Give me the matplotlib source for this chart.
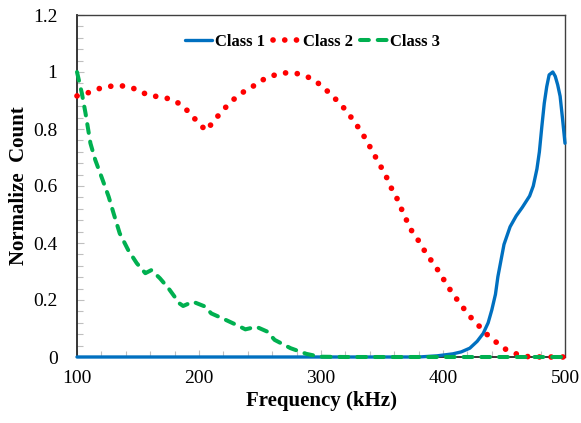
import matplotlib
matplotlib.use("Agg")
import matplotlib.pyplot as plt
from matplotlib.ticker import MultipleLocator, FuncFormatter

# Class 1 spectrum
freq_c1 = [100, 200, 300, 380, 395, 408, 415, 422, 428, 433, 437, 440, 443, 445,
           448, 450, 455, 460, 465, 468, 471, 474, 477, 479, 481, 483, 485, 487,
           490, 492, 494, 496, 498, 500]
count_c1 = [0, 0, 0, 0, 0.004, 0.011, 0.018, 0.031, 0.055, 0.083, 0.12, 0.165, 0.22, 0.282,
            0.35, 0.395, 0.457, 0.495, 0.525, 0.545, 0.565, 0.60, 0.66, 0.72, 0.808, 0.89, 0.948, 0.99,
            1.0, 0.985, 0.955, 0.915, 0.835, 0.75]

# Class 2 spectrum
freq_c2 = [100, 109, 119, 129, 139, 149, 158, 167, 177, 186, 193, 200, 206, 212,
           219, 226, 234, 243, 251, 260, 270, 280, 290, 299, 307, 314, 321, 327,
           333, 338, 343, 348, 353, 357, 362, 366, 370, 375, 381, 386, 392, 398,
           403, 409, 415, 421, 428, 435, 443, 451, 460, 470, 481, 491, 500]
count_c2 = [0.916, 0.927, 0.943, 0.951, 0.951, 0.939, 0.919, 0.913, 0.905, 0.884, 0.853, 0.819, 0.794, 0.828,
            0.863, 0.895, 0.924, 0.946, 0.970, 0.987, 0.997, 0.995, 0.981, 0.957, 0.926, 0.896, 0.863, 0.827,
            0.791, 0.754, 0.715, 0.676, 0.638, 0.598, 0.559, 0.519, 0.481, 0.437, 0.402, 0.364, 0.329, 0.291,
            0.254, 0.216, 0.182, 0.147, 0.116, 0.083, 0.054, 0.028, 0.011, 0.001, 0, 0, 0]

# Class 3 spectrum
freq_c3 = [100, 104, 107, 111, 115, 120, 126, 130, 135, 142, 149, 156, 161, 168,
           175, 184, 187, 195, 205, 210, 219, 231, 238, 247, 256, 262, 275, 288,
           299, 320, 400, 500]
count_c3 = [1.0, 0.925, 0.855, 0.75, 0.691, 0.633, 0.562, 0.504, 0.434, 0.375, 0.329, 0.294, 0.305, 0.276,
            0.241, 0.188, 0.179, 0.194, 0.177, 0.153, 0.136, 0.112, 0.097, 0.106, 0.089, 0.06, 0.031, 0.011,
            0.001, 0, 0, 0]

x_ticks = [100, 200, 300, 400, 500]
y_ticks = [0, 0.2, 0.4, 0.6, 0.8, 1.0, 1.2]

plt.rcParams["font.family"] = ["Liberation Serif", "DejaVu Serif"]

fig = plt.figure(figsize=(5.81, 4.23), dpi=100)
ax = fig.add_axes([77 / 581, 1 - 357 / 423, 488 / 581, 342 / 423])

ax.plot(freq_c1, count_c1, color="#0070C0", lw=2.4, label="Class 1",
        solid_capstyle="round", clip_on=False, zorder=3)
ax.plot(freq_c2, count_c2, color="#FF0000", lw=4.1, label="Class 2",
        linestyle=(0, (0.01, 2.05)), dash_capstyle="round", clip_on=False, zorder=4)
ax.plot(freq_c3, count_c3, color="#00B050", lw=2.9, label="Class 3",
        linestyle=(0, (2.2, 2.2)), dash_capstyle="round", clip_on=False, zorder=5)

ax.set_xlim(100, 500)
ax.set_ylim(0, 1.2)
ax.set_xticks(x_ticks)
ax.set_yticks(y_ticks)
ax.xaxis.set_minor_locator(MultipleLocator(20))
ax.yaxis.set_minor_locator(MultipleLocator(0.04))
ax.yaxis.set_major_formatter(FuncFormatter(lambda v, p: f"{v:g}"))
ax.tick_params(which="both", direction="in", color="#BFBFBF", width=0.8)
ax.tick_params(which="major", length=5, labelsize=14)
ax.tick_params(which="minor", length=4)
ax.tick_params(axis="y", which="major", pad=14)
ax.tick_params(axis="x", which="major", pad=9)

for side in ("left", "bottom"):
    ax.spines[side].set_color("#262626")
    ax.spines[side].set_linewidth(1.3)
for side in ("top", "right"):
    ax.spines[side].set_color("#404040")
    ax.spines[side].set_linewidth(1.0)

ax.set_xlabel("Frequency (kHz)", fontsize=15, fontweight="bold", labelpad=3)
fig.text(19 / 581, 1 - 186 / 423, "Normalize  Count", rotation=90, fontsize=15,
         fontweight="bold", ha="center", va="center")

leg = ax.legend(loc="center", bbox_to_anchor=(0.4826, 0.921), ncol=3, frameon=False,
                prop={"weight": "bold", "size": 12}, handlelength=1.6,
                handletextpad=0.2, columnspacing=0.45, borderaxespad=0)

fig.savefig("out.png", dpi=100)
